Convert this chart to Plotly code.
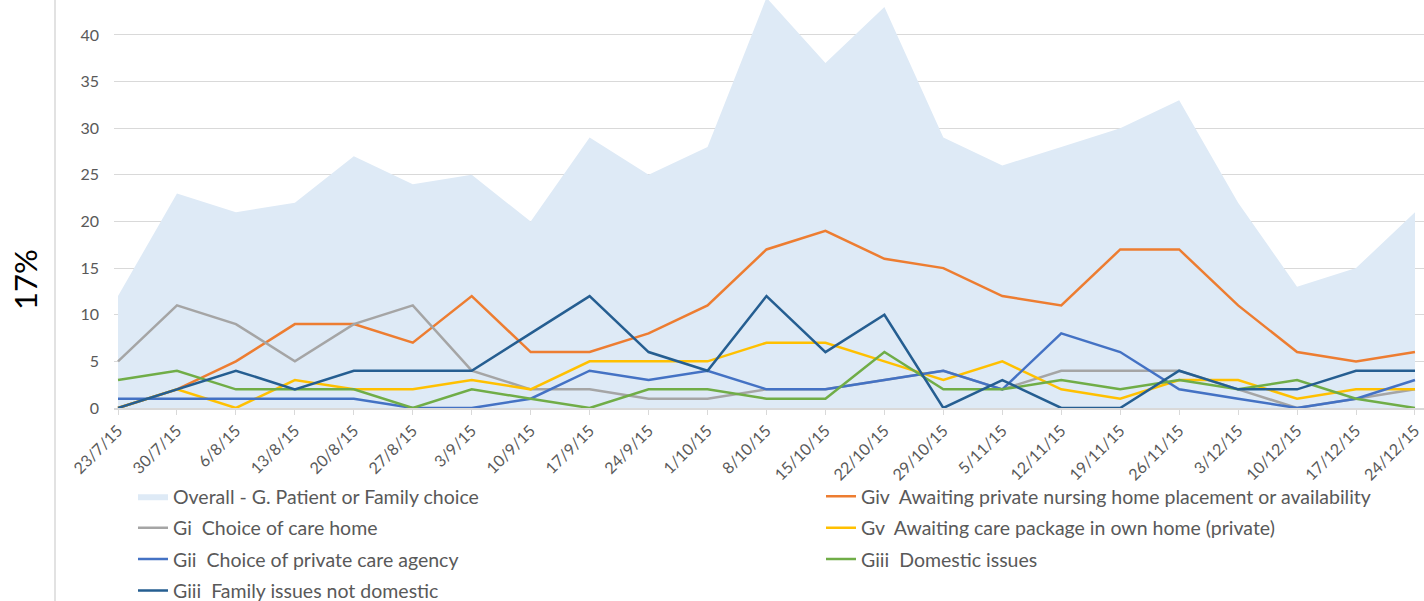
import plotly.graph_objects as go

categories = ["23/7/15", "30/7/15", "6/8/15", "13/8/15", "20/8/15", "27/8/15", "3/9/15",
              "10/9/15", "17/9/15", "24/9/15", "1/10/15", "8/10/15", "15/10/15", "22/10/15",
              "29/10/15", "5/11/15", "12/11/15", "19/11/15", "26/11/15", "3/12/15",
              "10/12/15", "17/12/15", "24/12/15"]

overall = [12, 23, 21, 22, 27, 24, 25, 20, 29, 25, 28, 44, 37, 43, 29, 26, 28, 30, 33, 22, 13, 15, 21]
giv_nursing = [0, 2, 5, 9, 9, 7, 12, 6, 6, 8, 11, 17, 19, 16, 15, 12, 11, 17, 17, 11, 6, 5, 6]
gi_care_home = [5, 11, 9, 5, 9, 11, 4, 2, 2, 1, 1, 2, 2, 3, 4, 2, 4, 4, 4, 2, 0, 1, 2]
gv_care_package = [0, 2, 0, 3, 2, 2, 3, 2, 5, 5, 5, 7, 7, 5, 3, 5, 2, 1, 3, 3, 1, 2, 2]
gii_agency = [1, 1, 1, 1, 1, 0, 0, 1, 4, 3, 4, 2, 2, 3, 4, 2, 8, 6, 2, 1, 0, 1, 3]
giii_domestic = [3, 4, 2, 2, 2, 0, 2, 1, 0, 2, 2, 1, 1, 6, 2, 2, 3, 2, 3, 2, 3, 1, 0]
giii_family = [0, 2, 4, 2, 4, 4, 4, 8, 12, 6, 4, 12, 6, 10, 0, 3, 0, 0, 4, 2, 2, 4, 4]

names = {
    "overall": "Overall - G. Patient or Family choice",
    "giv": "Giv\u00a0 Awaiting private nursing home placement or availability",
    "gi": "Gi\u00a0 Choice of care home",
    "gv": "Gv\u00a0 Awaiting care package in own home (private)",
    "gii": "Gii\u00a0 Choice of private care agency",
    "giiid": "Giii\u00a0 Domestic issues",
    "giiif": "Giii\u00a0 Family issues not domestic",
}

FONT = "Lato, 'Open Sans', sans-serif"
TXT = "#595959"

fig = go.Figure()
fig.add_trace(go.Scatter(x=categories, y=overall, name=names["overall"], mode="lines",
                         fill="tozeroy", fillcolor="#DEEAF6", line=dict(width=0, color="#DEEAF6"),
                         legend="legend", legendgroup="a"))

line_series = [
    ("giv", giv_nursing, "#ED7D31", "legend2", "b"),
    ("gi", gi_care_home, "#A5A5A5", "legend", "c"),
    ("gv", gv_care_package, "#FFC000", "legend2", "d"),
    ("gii", gii_agency, "#4472C4", "legend", "e"),
    ("giiid", giii_domestic, "#70AD47", "legend2", "f"),
    ("giiif", giii_family, "#255E91", "legend", "g"),
]
for key, vals, col, leg, grp in line_series:
    fig.add_trace(go.Scatter(x=categories, y=vals, name=names[key], mode="lines",
                             line=dict(color=col, width=2.5), legend=leg, legendgroup=grp))

legend_common = dict(orientation="v", xanchor="left", yanchor="top", tracegroupgap=3,
                     font=dict(family=FONT, size=19.5, color=TXT), bgcolor="rgba(0,0,0,0)")

fig.update_layout(
    width=1424, height=601,
    margin=dict(l=114, r=0, t=0, b=193, autoexpand=False),
    paper_bgcolor="white", plot_bgcolor="white",
    showlegend=True,
    legend=dict(x=0.0145, y=-0.1695, **legend_common),
    legend2=dict(x=0.5397, y=-0.1695, **legend_common),
    xaxis=dict(type="category", range=[-0.068, 22.153], showgrid=False,
               showline=True, linecolor="#D9D9D9", linewidth=2,
               ticks="outside", ticklen=5, tickcolor="#D9D9D9", tickwidth=1,
               tickangle=-45, tickfont=dict(family=FONT, size=16, color=TXT),
               layer="below traces"),
    yaxis=dict(range=[0, 43.75], dtick=5, showgrid=True, gridcolor="#D9D9D9", gridwidth=1,
               zeroline=False, showline=False, ticks="", ticklabelstandoff=14,
               tickfont=dict(family=FONT, size=16, color=TXT)),
    annotations=[dict(text="17%", xref="paper", yref="paper",
                      x=(25 - 114) / 1310, y=(408 - 280) / 408,
                      textangle=-90, showarrow=False, xanchor="center", yanchor="middle",
                      font=dict(family=FONT, size=31, color="#000000"))],
    shapes=[dict(type="line", xref="paper", yref="paper",
                 x0=(55 - 114) / 1310, x1=(55 - 114) / 1310, y0=-0.6, y1=1.1,
                 line=dict(color="#D9D9D9", width=1.5))],
)

fig.write_html("out.html", config={"displayModeBar": False},
               post_script="document.body.style.margin='0px';document.body.style.overflow='hidden';")
